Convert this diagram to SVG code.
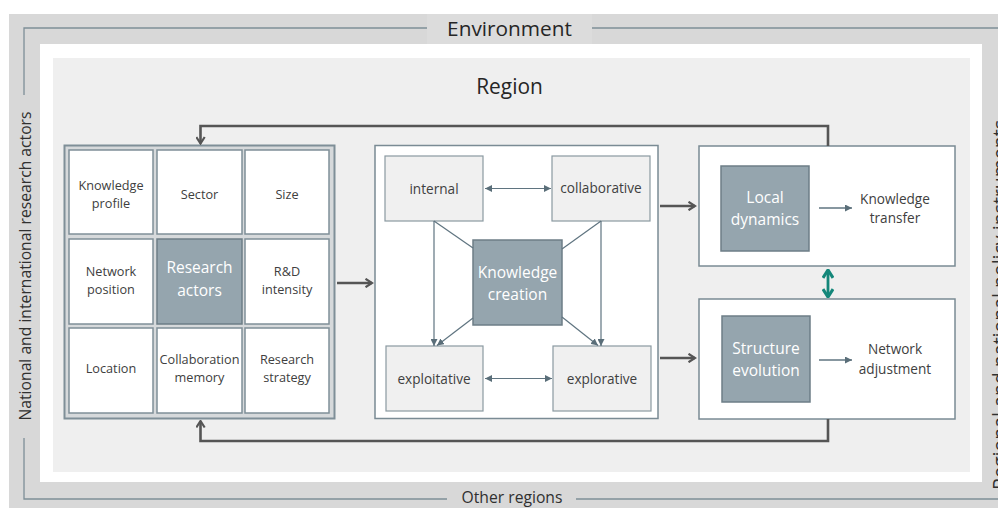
<svg xmlns="http://www.w3.org/2000/svg" width="998" height="508" viewBox="0 0 998 508">
<defs>
<style>
text{font-family:"Open Sans","DejaVu Sans",sans-serif;fill:#404040}
.cell{fill:#ffffff;stroke:#7f8f98;stroke-width:1.5}
.ibox{fill:#f0f0f0;stroke:#8a99a1;stroke-width:1.2}
.dark{fill:#95a5ae;stroke:#6d7e87;stroke-width:1.5}
.wbox{fill:#ffffff;stroke:#7a8b94;stroke-width:1.5}
.env{stroke:#7d8e97;stroke-width:1.3;fill:none}
.big{stroke:#555555;stroke-width:2.6;fill:none}
.thin{stroke:#5f7480;stroke-width:1.2;fill:none}
.ct{font-size:12.7px;text-anchor:middle}
.kt{font-size:13.6px;text-anchor:middle}
.wt{font-size:15.5px;text-anchor:middle;fill:#ffffff}
</style>
<marker id="chev" viewBox="0 0 10 10" refX="8.5" refY="5" markerWidth="10" markerHeight="10" markerUnits="userSpaceOnUse" orient="auto-start-reverse">
<path d="M2,0.8 L8.5,5 L2,9.2" fill="none" stroke="#555555" stroke-width="2.2"/>
</marker>
<marker id="tri" viewBox="0 0 10 10" refX="10" refY="5" markerWidth="7" markerHeight="7" markerUnits="userSpaceOnUse" orient="auto-start-reverse">
<path d="M0,0 L10,5 L0,10 z" fill="#5a6e79"/>
</marker>
<marker id="teal" viewBox="0 0 10 10" refX="9" refY="5" markerWidth="12" markerHeight="12" markerUnits="userSpaceOnUse" orient="auto-start-reverse">
<path d="M2.5,0.8 L9,5 L2.5,9.2" fill="none" stroke="#14877a" stroke-width="2.6"/>
</marker>
</defs>

<g id="environment">
<rect x="9" y="14" width="989" height="494" fill="#d8d8d8"/>
<rect x="427" y="14" width="165" height="30" fill="#dcdcdc"/>
<rect x="40" y="44" width="942" height="438" fill="#ffffff"/>
<path class="env" d="M427,28 H24 V95 M24,438 V499 H447 M576,499 H998 M592,28 H998"/>
<text x="509.5" y="35.5" style="font-size:20.8px;text-anchor:middle;fill:#262626">Environment</text>
<text x="512" y="502.5" style="font-size:15.7px;text-anchor:middle;fill:#303030">Other regions</text>
<text transform="translate(31,266) rotate(-90)" style="font-size:15.7px;text-anchor:middle;fill:#303030">National and international research actors</text>
<text transform="translate(1007,305) rotate(-90)" style="font-size:19.5px;text-anchor:middle;fill:#303030">Regional and national policy instruments</text>
</g>

<g id="region">
<rect x="53" y="58" width="917" height="414" fill="#efefef"/>
<text x="509.5" y="94" style="font-size:20.9px;text-anchor:middle;fill:#262626">Region</text>
</g>

<g id="research-actors">
<rect x="64.5" y="145.5" width="270" height="273" fill="#d6d9db" stroke="#7f8f98" stroke-width="2"/>
<rect class="cell" x="69" y="150" width="84" height="84"/>
<rect class="cell" x="157" y="150" width="85" height="84"/>
<rect class="cell" x="245" y="150" width="84" height="84"/>
<rect class="cell" x="69" y="239" width="84" height="85"/>
<rect class="dark" x="157" y="239" width="85" height="85"/>
<rect class="cell" x="245" y="239" width="84" height="85"/>
<rect class="cell" x="69" y="328" width="84" height="85"/>
<rect class="cell" x="157" y="328" width="85" height="85"/>
<rect class="cell" x="245" y="328" width="84" height="85"/>
<text class="ct" x="111" y="189.5">Knowledge</text>
<text class="ct" x="111" y="207.5">profile</text>
<text class="ct" x="199.5" y="198.5">Sector</text>
<text class="ct" x="287" y="198.5">Size</text>
<text class="ct" x="111" y="275.5">Network</text>
<text class="ct" x="111" y="293.5">position</text>
<text class="wt" x="199.5" y="273">Research</text>
<text class="wt" x="199.5" y="295.5">actors</text>
<text class="ct" x="287" y="275.5">R&amp;D</text>
<text class="ct" x="287" y="293.5">intensity</text>
<text class="ct" x="111" y="372.5">Location</text>
<text class="ct" x="199.5" y="363.5">Collaboration</text>
<text class="ct" x="199.5" y="382">memory</text>
<text class="ct" x="287" y="363.5">Research</text>
<text class="ct" x="287" y="382">strategy</text>
</g>

<g id="knowledge-creation">
<rect class="wbox" x="375" y="145.5" width="283" height="273"/>
<rect class="ibox" x="385" y="156" width="98" height="65"/>
<rect class="ibox" x="552" y="156" width="98" height="65"/>
<rect class="ibox" x="386" y="346" width="97" height="65"/>
<rect class="ibox" x="553" y="346" width="98" height="65"/>
<rect class="dark" x="473" y="240" width="89" height="85"/>
<text class="kt" x="434" y="194">internal</text>
<text class="kt" x="601" y="193">collaborative</text>
<text class="kt" x="434" y="383.5">exploitative</text>
<text class="kt" x="602" y="383.5">explorative</text>
<text class="wt" x="517.5" y="278">Knowledge</text>
<text class="wt" x="517.5" y="300">creation</text>
</g>

<g id="local-dynamics">
<rect class="wbox" x="699" y="146" width="256" height="120"/>
<rect class="dark" x="721" y="166" width="88" height="85"/>
<text class="wt" x="765" y="203">Local</text>
<text class="wt" x="765" y="225">dynamics</text>
<text class="kt" x="895" y="204">Knowledge</text>
<text class="kt" x="895" y="223">transfer</text>
</g>

<g id="structure-evolution">
<rect class="wbox" x="699" y="299" width="256" height="120"/>
<rect class="dark" x="722" y="316" width="88" height="86"/>
<text class="wt" x="766" y="354">Structure</text>
<text class="wt" x="766" y="376">evolution</text>
<text class="kt" x="895" y="354">Network</text>
<text class="kt" x="895" y="374">adjustment</text>
</g>

<g id="connectors">
<line class="big" x1="337" y1="283" x2="372" y2="283" marker-end="url(#chev)"/>
<line class="big" x1="660" y1="206" x2="695" y2="206" marker-end="url(#chev)"/>
<line class="big" x1="660" y1="358" x2="695" y2="358" marker-end="url(#chev)"/>
<path class="big" d="M828,146 V126 H200.5 V143.5" marker-end="url(#chev)"/>
<path class="big" d="M828,419 V441 H200.5 V421" marker-end="url(#chev)"/>
<line x1="828" y1="270" x2="828" y2="297" stroke="#14877a" stroke-width="2.8" marker-start="url(#teal)" marker-end="url(#teal)"/>
<line class="thin" x1="485" y1="188.5" x2="551" y2="188.5" marker-start="url(#tri)" marker-end="url(#tri)"/>
<line class="thin" x1="485" y1="378.5" x2="552" y2="378.5" marker-start="url(#tri)" marker-end="url(#tri)"/>
<line class="thin" x1="434" y1="221" x2="434" y2="346" marker-end="url(#tri)"/>
<line class="thin" x1="434" y1="221" x2="473" y2="248"/>
<line class="thin" x1="473" y1="318" x2="437" y2="345.5" marker-end="url(#tri)"/>
<line class="thin" x1="601" y1="221" x2="601" y2="346" marker-end="url(#tri)"/>
<line class="thin" x1="601" y1="221" x2="562" y2="249"/>
<line class="thin" x1="562" y1="317" x2="598" y2="345.5" marker-end="url(#tri)"/>
<line x1="819" y1="208" x2="852" y2="208" stroke="#5f7480" stroke-width="1.6" marker-end="url(#tri)"/>
<line x1="819" y1="360" x2="852" y2="360" stroke="#5f7480" stroke-width="1.6" marker-end="url(#tri)"/>
</g>
</svg>
